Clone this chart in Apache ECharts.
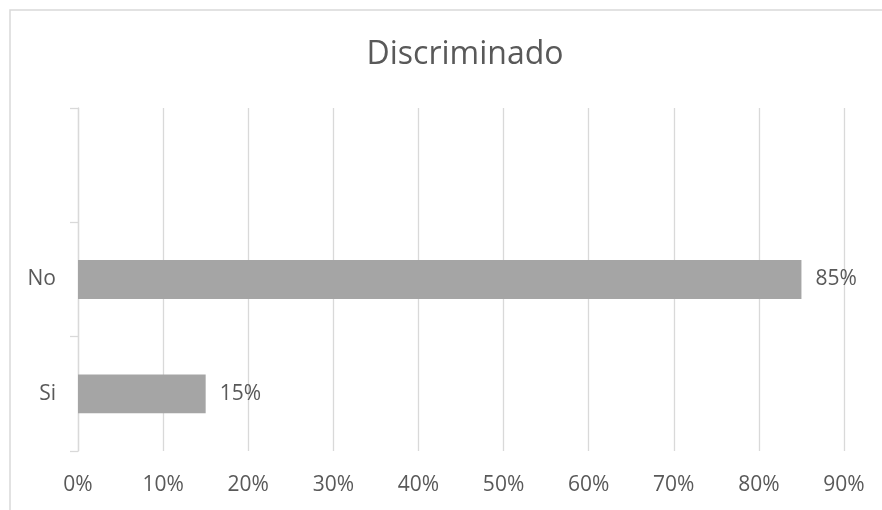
<!DOCTYPE html>
<html>
<head>
<meta charset="utf-8">
<script src="https://cdn.jsdelivr.net/npm/echarts@6/dist/echarts.min.js"></script>
<style>
html,body{margin:0;padding:0;background:#fff;}
#chart{width:882px;height:510px;}
</style>
</head>
<body>
<div id="chart"></div>
<script>
var titleText = 'Discriminado';
var categories = ['Si', 'No', ''];
var values = [15, 85, null];
var xTicks = {min: 0, max: 90, interval: 10};

var FONT = '"Open Sans", sans-serif';
var TXT = '#595959';
var GRID = '#d9d9d9';

var chart = echarts.init(document.getElementById('chart'), null, {renderer: 'canvas'});
chart.setOption({
  backgroundColor: '#ffffff',
  animation: false,
  title: {
    text: titleText,
    left: 460,
    top: 34,
    textAlign: 'center',
    textStyle: {fontFamily: FONT, fontSize: 32, fontWeight: 'normal', color: TXT}
  },
  graphic: [{
    type: 'rect',
    shape: {x: 10, y: 10, width: 1000, height: 1000},
    style: {fill: 'none', stroke: '#d9d9d9', lineWidth: 1.5},
    silent: true
  }],
  grid: {left: 78, right: 38, top: 108, bottom: 59, containLabel: false},
  xAxis: {
    type: 'value',
    min: xTicks.min,
    max: xTicks.max,
    interval: xTicks.interval,
    axisLine: {show: false},
    axisTick: {show: false},
    splitLine: {show: true, lineStyle: {color: GRID, width: 1.3}},
    axisLabel: {formatter: '{value}%', color: TXT, fontFamily: FONT, fontSize: 21, margin: 24}
  },
  yAxis: {
    type: 'category',
    data: categories,
    boundaryGap: true,
    axisLine: {show: true, lineStyle: {color: GRID, width: 1.3}},
    axisTick: {show: true, length: 8, lineStyle: {color: GRID, width: 1.3}},
    axisLabel: {color: TXT, fontFamily: FONT, fontSize: 21, margin: 22, padding: [5, 0, 0, 0]}
  },
  series: [{
    type: 'bar',
    data: values,
    barWidth: '34%',
    itemStyle: {color: '#a5a5a5'},
    label: {
      show: true,
      position: 'right',
      distance: 14,
      formatter: '{c}%',
      color: TXT,
      fontFamily: FONT,
      fontSize: 21,
      padding: [4, 0, 0, 0]
    }
  }]
});
</script>
</body>
</html>
